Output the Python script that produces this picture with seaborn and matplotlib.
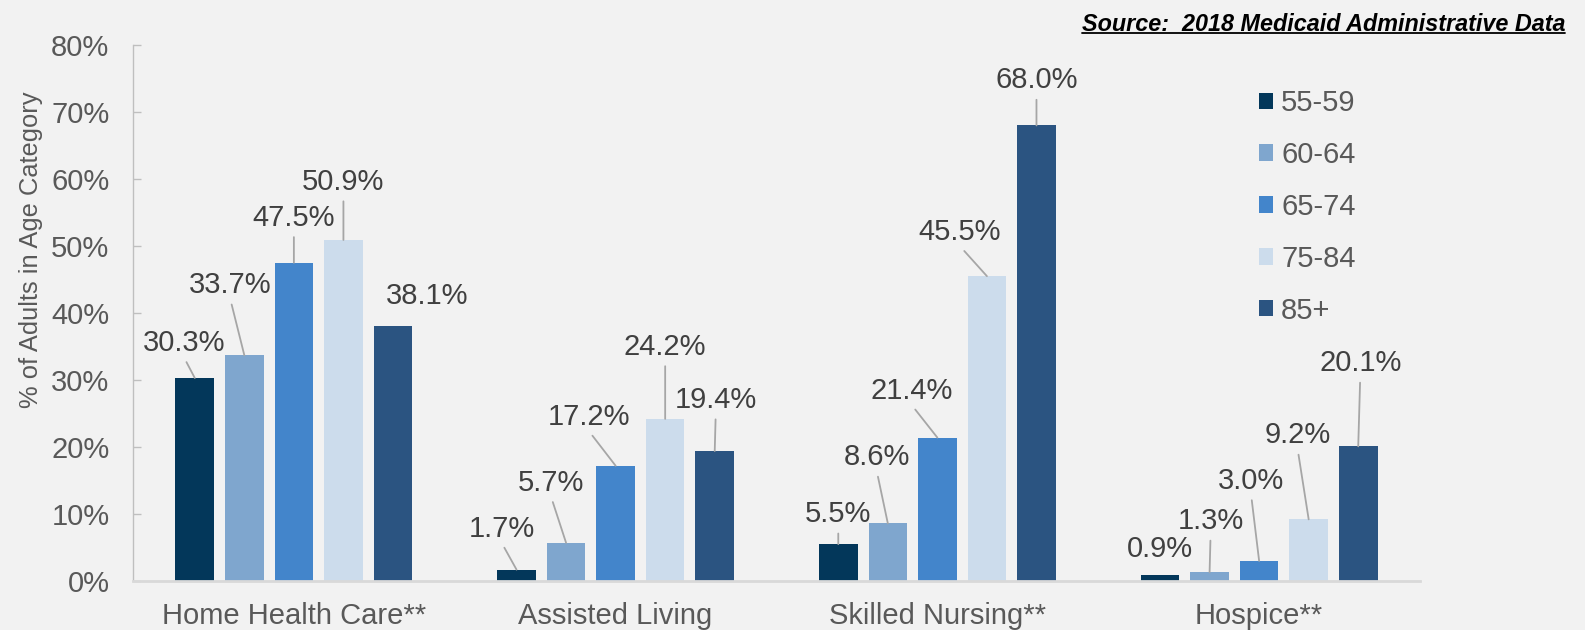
import numpy as np
import pandas as pd
import matplotlib
matplotlib.use("Agg")
import matplotlib.pyplot as plt
from matplotlib.lines import Line2D
import seaborn as sns

# ---------------- data ----------------
services = ["Home Health Care**", "Assisted Living", "Skilled Nursing**", "Hospice**"]
age_groups = ["55-59", "60-64", "65-74", "75-84", "85+"]
pct_55_59 = [30.3, 1.7, 5.5, 0.9]
pct_60_64 = [33.7, 5.7, 8.6, 1.3]
pct_65_74 = [47.5, 17.2, 21.4, 3.0]
pct_75_84 = [50.9, 24.2, 45.5, 9.2]
pct_85_plus = [38.1, 19.4, 68.0, 20.1]
y_ticks = [0, 10, 20, 30, 40, 50, 60, 70, 80]
y_tick_labels = [f"{t}%" for t in y_ticks]
y_title = "% of Adults in Age Category"
source_note = "Source:  2018 Medicaid Administrative Data"

series = [pct_55_59, pct_60_64, pct_65_74, pct_75_84, pct_85_plus]
df = pd.DataFrame(
    [(s, a, v) for a, vals in zip(age_groups, series) for s, v in zip(services, vals)],
    columns=["service", "age", "pct"],
)

# ---------------- style ----------------
colors = ["#03375A", "#7FA6CE", "#4385CB", "#CCDCEC", "#2B5481"]
BG = "#F2F2F2"
TXT = "#595959"
LBL = "#404040"
FS = 21

# label placement: pixel offsets of label centre from bar top
label_offsets = [
    [(-11, 35), (-15, 41), (0, 30), (0, 26)],
    [(-14, 70), (-15, 60), (-11, 66), (1, 51)],
    [(0, 45), (-27, 49), (-26, 47), (-8, 80)],
    [(0, 58), (0, 72), (-27, 44), (-11, 84)],
    [(34, 30), (1, 51), (0, 45), (2, 83)],
]
no_leader = {(4, 0), (0, 3)}

sns.set_theme(style="white")
plt.rcParams["font.family"] = ["Liberation Sans", "DejaVu Sans"]

fig = plt.figure(figsize=(15.85, 6.30), dpi=100, facecolor=BG)
ax = fig.add_axes([133 / 1585, 1 - 581 / 630, (1420 - 133) / 1585, (581 - 45) / 630])
ax.set_facecolor(BG)

sns.barplot(data=df, x="service", y="pct", hue="age", order=services,
            hue_order=age_groups, palette=colors, width=0.77, gap=0.22,
            saturation=1, linewidth=0, ax=ax, errorbar=None)

ax.set_xlim(-0.5, 3.5)
ax.set_ylim(0, 80)
ax.set_yticks(y_ticks)
ax.set_yticklabels(y_tick_labels)
ax.tick_params(axis="y", direction="in", length=6, width=1, color="#BFBFBF",
               labelsize=FS, labelcolor=TXT, pad=17, left=True)
ax.tick_params(axis="x", length=0, labelsize=FS, labelcolor=TXT, pad=15)
ax.set_xlabel("")
ax.set_ylabel(y_title, fontsize=18.4, color=TXT)
ax.yaxis.label.set_va("center")
ax.yaxis.set_label_coords(-0.0793, 0.618)

for side in ["top", "right"]:
    ax.spines[side].set_visible(False)
ax.spines["left"].set_color("#BFBFBF")
ax.spines["left"].set_linewidth(1.0)
ax.spines["bottom"].set_color("#D9D9D9")
ax.spines["bottom"].set_linewidth(2.0)

# data labels with leader lines
for i, cont in enumerate(ax.containers):
    for j, bar in enumerate(cont):
        h = bar.get_height()
        xc = bar.get_x() + bar.get_width() / 2
        dx, dy = label_offsets[i][j]
        ap = None
        if (i, j) not in no_leader:
            ap = dict(arrowstyle="-", color="#A6A6A6", lw=1.3, shrinkA=1.5,
                      shrinkB=0, relpos=(0.5, 0))
        ax.annotate(f"{h:.1f}%", xy=(xc, h), xytext=(dx, dy),
                    textcoords="offset pixels", ha="center", va="center",
                    fontsize=FS, color=LBL, arrowprops=ap, annotation_clip=False)

# legend
handles, labels = ax.get_legend_handles_labels()
ax.legend(handles, labels, loc="upper left",
          bbox_to_anchor=(1259 / 1585, 1 - 89 / 630), bbox_transform=fig.transFigure,
          frameon=False, borderpad=0, borderaxespad=0, fontsize=FS,
          handlelength=0.48, handleheight=0.48, handletextpad=0.28,
          labelspacing=0.82, labelcolor=TXT)

# source note (bold italic underlined)
src = fig.text(1565 / 1585, 1 - 30.7 / 630, source_note, ha="right", va="baseline",
               fontsize=16.8, fontweight="bold", fontstyle="italic", color="black")
fig.canvas.draw()
bb = src.get_window_extent(fig.canvas.get_renderer())
yl = 1 - 33 / 630
fig.add_artist(Line2D([bb.x0 / 1585, bb.x1 / 1585], [yl, yl], transform=fig.transFigure,
                      color="black", lw=1.3))

fig.savefig("out.png", dpi=100, facecolor=BG)
